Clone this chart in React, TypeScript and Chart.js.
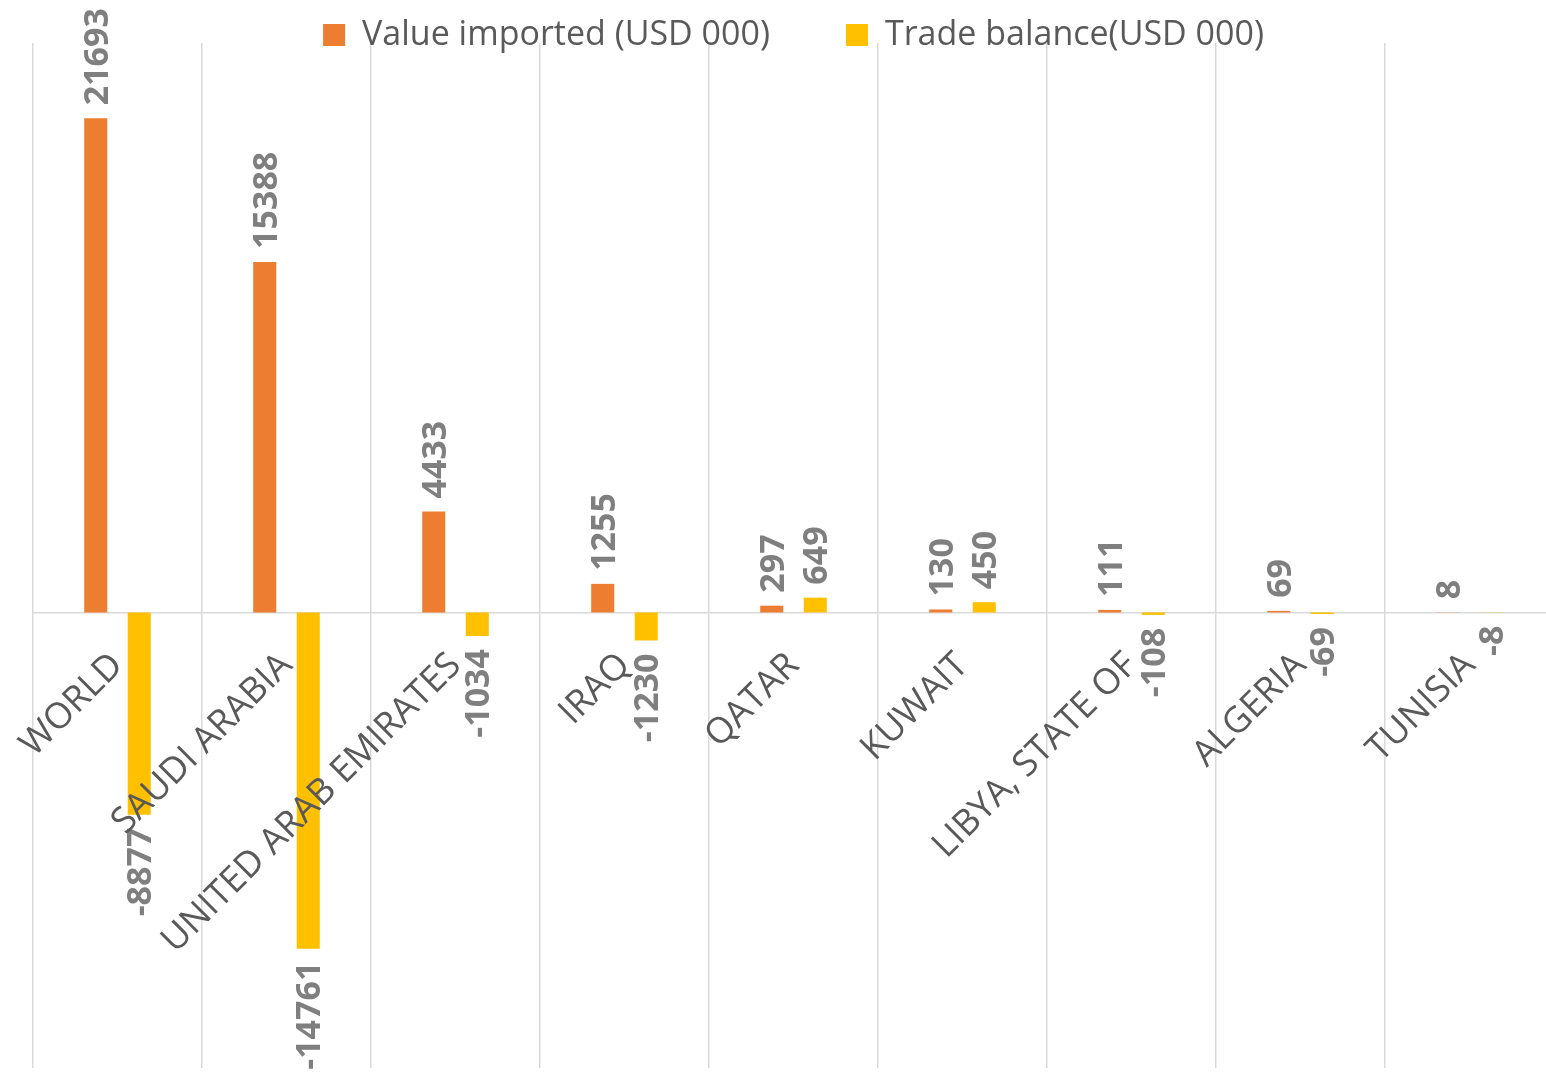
import React, { useEffect, useRef } from 'react';
import { Chart, registerables } from 'chart.js';

Chart.register(...registerables);

const categories = [
  'WORLD',
  'SAUDI ARABIA',
  'UNITED ARAB EMIRATES',
  'IRAQ',
  'QATAR',
  'KUWAIT',
  'LIBYA, STATE OF',
  'ALGERIA',
  'TUNISIA',
];
const valueImported = [21693, 15388, 4433, 1255, 297, 130, 111, 69, 8];
const tradeBalance = [-8877, -14761, -1034, -1230, 649, 450, -108, -69, -8];
const seriesNames = ['Value imported (USD 000)', 'Trade balance(USD 000)'];
const seriesColors = ['#ED7D31', '#FFC000'];
const yMin = -20000;
const yMax = 25000;

const LEGEND_PAD = 76;
const LAYOUT_TOP = -58;
const LEGEND_HEIGHT = 101;

const legendFitPlugin = {
  id: 'legendFit',
  beforeLayout(chart: any) {
    const lg = chart.legend;
    if (lg && !lg.__patched) {
      const orig = lg.fit.bind(lg);
      lg.fit = function () {
        orig();
        this.height = LEGEND_HEIGHT;
      };
      lg.__patched = true;
    }
  },
  afterLayout(chart: any) {
    const lg = chart.legend;
    if (lg) {
      lg.bottom = lg.top + LEGEND_HEIGHT + 30;
    }
  },
};

const dataLabelPlugin = {
  id: 'dataLabels',
  afterDatasetsDraw(chart: any) {
    const ctx = chart.ctx;
    const fontSize = 34;
    ctx.save();
    ctx.font = `bold ${fontSize}px 'Open Sans'`;
    ctx.fillStyle = '#7F7F7F';
    ctx.textBaseline = 'alphabetic';
    chart.data.datasets.forEach((ds: any, di: number) => {
      const meta = chart.getDatasetMeta(di);
      meta.data.forEach((el: any, i: number) => {
        const v = ds.data[i];
        const gap = 13;
        const y = v >= 0 ? el.y - gap : el.y + gap;
        ctx.save();
        ctx.translate(el.x + fontSize * 0.36, y);
        ctx.rotate(-Math.PI / 2);
        ctx.textAlign = v >= 0 ? 'left' : 'right';
        ctx.fillText(String(v), 0, 0);
        ctx.restore();
      });
    });
    ctx.restore();
  },
};

export default function App() {
  const ref = useRef<HTMLCanvasElement | null>(null);

  useEffect(() => {
    if (!ref.current) return;
    const chart = new Chart(ref.current, {
      type: 'bar',
      data: {
        labels: categories,
        datasets: [
          {
            label: seriesNames[0],
            data: valueImported,
            backgroundColor: seriesColors[0],
            borderWidth: 0,
            barPercentage: 0.53,
            categoryPercentage: 0.515,
          },
          {
            label: seriesNames[1],
            data: tradeBalance,
            backgroundColor: seriesColors[1],
            borderWidth: 0,
            barPercentage: 0.53,
            categoryPercentage: 0.515,
          },
        ],
      },
      options: {
        animation: false,
        responsive: false,
        devicePixelRatio: 1,
        layout: { padding: { left: 33, right: 0, top: LAYOUT_TOP, bottom: 12 } },
        plugins: {
          legend: {
            position: 'top',
            labels: {
              boxWidth: 22,
              boxHeight: 22,
              padding: LEGEND_PAD,
              color: '#595959',
              font: { family: "'Open Sans'", size: 34 },
            },
          },
          tooltip: { enabled: false },
        },
        scales: {
          x: {
            position: { y: 0 } as any,
            grid: {
              display: true,
              color: '#D9D9D9',
              lineWidth: 1.5,
              drawTicks: false,
              offset: true,
            },
            border: { display: true, color: '#D9D9D9', width: 1.5 },
            ticks: {
              z: 1,
              color: '#595959',
              font: { family: "'Open Sans'", size: 36 },
              minRotation: 45,
              maxRotation: 45,
              autoSkip: false,
              padding: 32,
            },
            afterFit: (scale: any) => {
              scale.height = 0;
              scale.paddingLeft = 0;
              scale.paddingRight = 0;
            },
          },
          y: {
            display: false,
            min: yMin,
            max: yMax,
          },
        },
      },
      plugins: [legendFitPlugin, dataLabelPlugin],
    });
    return () => chart.destroy();
  }, []);

  return (
    <div
      style={{
        position: 'fixed',
        left: 0,
        top: 0,
        width: 1546,
        height: 1080,
        overflow: 'hidden',
        background: '#fff',
      }}
    >
      <canvas ref={ref} width={1554} height={1080} style={{ display: 'block' }} />
    </div>
  );
}
